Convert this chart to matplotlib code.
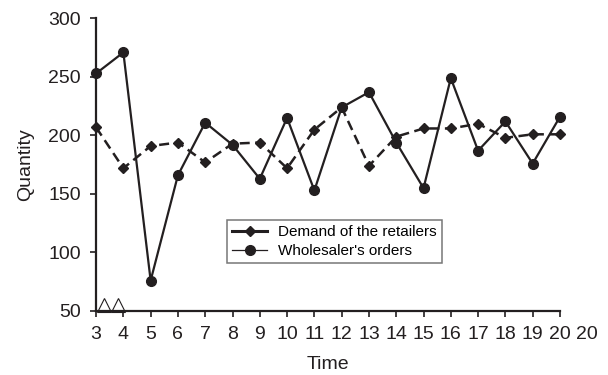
import matplotlib
matplotlib.use("Agg")
import matplotlib.pyplot as plt
from matplotlib.lines import Line2D

plt.rcParams['font.family'] = ['Liberation Sans', 'DejaVu Sans']

# Period labels along the time axis (the last label repeats)
time_labels = ["3", "4", "5", "6", "7", "8", "9", "10", "11", "12", "13",
               "14", "15", "16", "17", "18", "19", "20", "20"]
periods = list(range(3, 21))

demand_retailers = [207, 172, 191, 194, 177, 193, 194, 172, 205, 224,
                    174, 199, 206, 206, 210, 198, 201, 201]
wholesaler_orders = [253, 271, 76, 166, 211, 192, 163, 215, 153, 224,
                     237, 194, 155, 249, 187, 212, 176, 216]

# Open triangles marking the start-up periods
triangle_pos = [0.3, 0.8]
triangle_val = [55.5, 55.5]

ink = "#231f20"
fs = 14

fig = plt.figure(figsize=(6.08, 3.75), dpi=100)
ax = fig.add_axes([0.158, 0.1707, 0.763, 0.78])

xs = list(range(len(periods)))
ax.plot(xs, demand_retailers, color=ink, lw=1.8, dashes=(4, 2.2),
        marker='D', markersize=5, clip_on=False, zorder=3)
ax.plot(xs, wholesaler_orders, color=ink, lw=1.6,
        marker='o', markersize=7, clip_on=False, zorder=4)
ax.plot(triangle_pos, triangle_val, ls='none', marker='^', markersize=10,
        mfc='white', mec=ink, mew=0.8, clip_on=False, zorder=2)

ax.set_xlim(0, len(periods) - 1)
ax.set_ylim(50, 300)
ax.set_yticks([50, 100, 150, 200, 250, 300])
ax.set_xticks(xs)
ax.set_xticklabels(time_labels[:len(periods)])

tick_len, x_pad = 4, 7
# extra trailing label one step beyond the axis end
ax.annotate(time_labels[-1], xy=(len(periods), 0),
            xycoords=ax.get_xaxis_transform(),
            xytext=(0, -(tick_len + x_pad)), textcoords='offset points',
            ha='center', va='top', fontsize=fs, color=ink,
            annotation_clip=False)

for side in ('top', 'right'):
    ax.spines[side].set_visible(False)
for side in ('left', 'bottom'):
    ax.spines[side].set_linewidth(1.6)
    ax.spines[side].set_color(ink)

ax.tick_params(axis='both', direction='out', length=tick_len, width=1.2,
               labelsize=fs, colors=ink)
ax.tick_params(axis='y', pad=7)
ax.tick_params(axis='x', pad=x_pad)

ax.set_xlabel("Time", fontsize=fs, color=ink, labelpad=9)
ax.set_ylabel("Quantity", fontsize=fs, color=ink, labelpad=10)

handles = [
    Line2D([], [], color=ink, lw=2.2, marker='D', markersize=5),
    Line2D([], [], color=ink, lw=0.9, marker='o', markersize=7),
]
leg = ax.legend(handles, ["Demand of the retailers", "Wholesaler's orders"],
                loc='upper left', bbox_to_anchor=(0.282, 0.311),
                fontsize=11, frameon=True, fancybox=False,
                handlelength=2.3, handletextpad=0.7, borderpad=0.35,
                labelspacing=0.3, borderaxespad=0)
leg.get_frame().set_edgecolor("#555555")
leg.get_frame().set_linewidth(1.1)

fig.savefig("out.png", dpi=100)
